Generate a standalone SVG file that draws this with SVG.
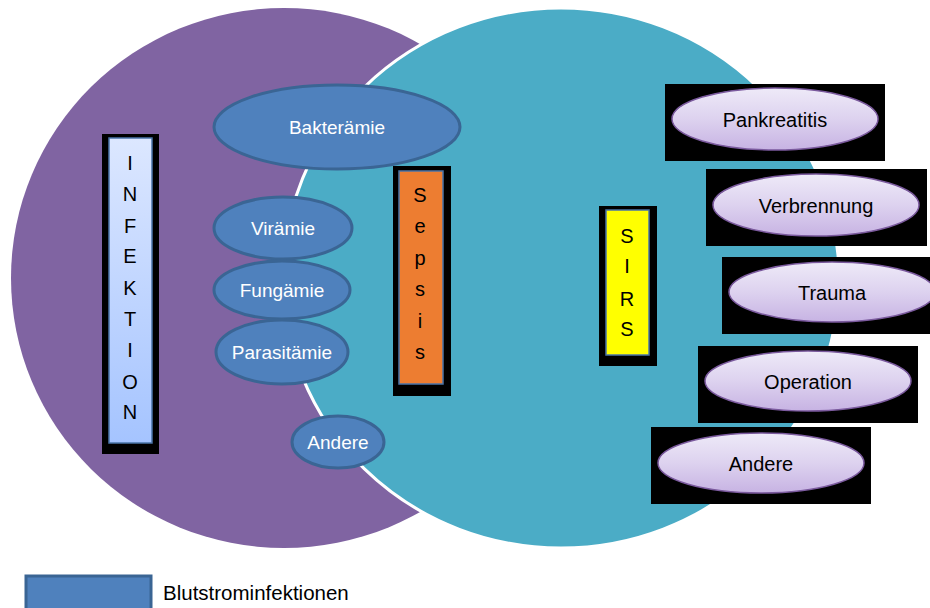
<svg xmlns="http://www.w3.org/2000/svg" width="930" height="608" viewBox="0 0 930 608">
<defs>
<linearGradient id="lav" x1="0" y1="0" x2="0" y2="1">
<stop offset="0" stop-color="#EEEAF8"/>
<stop offset="0.5" stop-color="#DDD2EF"/>
<stop offset="1" stop-color="#C7B3E3"/>
</linearGradient>
<linearGradient id="lblue" x1="0" y1="0" x2="0" y2="1">
<stop offset="0" stop-color="#DCE7FF"/>
<stop offset="1" stop-color="#A5C4FF"/>
</linearGradient>
<style>
.bse{fill:#4F81BD;stroke:#3A6594;stroke-width:3}
.wt{font-family:"Liberation Sans",Arial,sans-serif;font-size:19px;fill:#FFFFFF;text-anchor:middle}
.bt{font-family:"Liberation Sans",Arial,sans-serif;font-size:20px;fill:#000000;text-anchor:middle}
.lt{font-family:"Liberation Sans",Arial,sans-serif;font-size:20px;fill:#000000;text-anchor:middle}
.lav{fill:url(#lav);stroke:#7B5A9E;stroke-width:1.5}
.blk{fill:#000000}
.inner{stroke:#4A74A8;stroke-width:1.5}
</style>
</defs>
<rect width="930" height="608" fill="#FFFFFF"/>
<g id="infektion-circle">
<ellipse cx="284" cy="278" rx="273" ry="270" fill="#8064A2"/>
</g>
<g id="sirs-circle">
<ellipse cx="561" cy="278" rx="278" ry="270" fill="#4BACC6" stroke="#FFFFFF" stroke-width="3"/>
</g>
<g id="connectors"></g>
<g id="bakteraemie">
<ellipse class="bse" cx="337" cy="127" rx="123" ry="42"/>
<text class="wt" x="337" y="134">Bakterämie</text>
</g>
<g id="viraemie">
<ellipse class="bse" cx="283" cy="228" rx="69" ry="31"/>
<text class="wt" x="283" y="235">Virämie</text>
</g>
<g id="fungaemie">
<ellipse class="bse" cx="282" cy="290" rx="68" ry="29"/>
<text class="wt" x="282" y="297">Fungämie</text>
</g>
<g id="parasitaemie">
<ellipse class="bse" cx="282" cy="352" rx="66" ry="32"/>
<text class="wt" x="282" y="359">Parasitämie</text>
</g>
<g id="andere-blue">
<ellipse class="bse" cx="338" cy="442" rx="46" ry="26"/>
<text class="wt" x="338" y="449">Andere</text>
</g>
<g id="infektion">
<rect class="blk" x="102" y="134" width="57" height="320"/>
<rect class="inner" x="109" y="138" width="43" height="305" fill="url(#lblue)"/>
<text class="bt" x="130" y="170">I</text>
<text class="bt" x="130" y="201">N</text>
<text class="bt" x="130" y="233">F</text>
<text class="bt" x="130" y="263">E</text>
<text class="bt" x="130" y="295">K</text>
<text class="bt" x="130" y="326">T</text>
<text class="bt" x="130" y="357">I</text>
<text class="bt" x="130" y="389">O</text>
<text class="bt" x="130" y="419">N</text>
</g>
<g id="sepsis">
<rect class="blk" x="393" y="166" width="58" height="230"/>
<rect class="inner" x="399" y="171" width="44" height="213" fill="#ED7D31"/>
<text class="bt" x="420" y="202">S</text>
<text class="bt" x="420" y="233">e</text>
<text class="bt" x="420" y="265">p</text>
<text class="bt" x="420" y="296">s</text>
<text class="bt" x="420" y="328">i</text>
<text class="bt" x="420" y="359">s</text>
</g>
<g id="sirs">
<rect class="blk" x="599" y="206" width="58" height="160"/>
<rect class="inner" x="606" y="210" width="43" height="145" fill="#FFFF00"/>
<text class="bt" x="627" y="243">S</text>
<text class="bt" x="627" y="273">I</text>
<text class="bt" x="627" y="306">R</text>
<text class="bt" x="627" y="336">S</text>
</g>
<g id="pankreatitis">
<rect class="blk" x="665" y="84" width="220" height="77"/>
<ellipse class="lav" cx="775" cy="119" rx="103" ry="31"/>
<text class="lt" x="775" y="127">Pankreatitis</text>
</g>
<g id="verbrennung">
<rect class="blk" x="706" y="169" width="221" height="77"/>
<ellipse class="lav" cx="816" cy="205" rx="103" ry="31"/>
<text class="lt" x="816" y="213">Verbrennung</text>
</g>
<g id="trauma">
<rect class="blk" x="722" y="257" width="208" height="77"/>
<ellipse class="lav" cx="832" cy="292" rx="103" ry="30"/>
<text class="lt" x="832" y="300">Trauma</text>
</g>
<g id="operation">
<rect class="blk" x="698" y="346" width="220" height="77"/>
<ellipse class="lav" cx="808" cy="381" rx="103" ry="30"/>
<text class="lt" x="808" y="389">Operation</text>
</g>
<g id="andere-lavender">
<rect class="blk" x="651" y="427" width="220" height="77"/>
<ellipse class="lav" cx="761" cy="463" rx="103" ry="30"/>
<text class="lt" x="761" y="471">Andere</text>
</g>
<g id="legend">
<rect x="26" y="576" width="125" height="34" fill="#4F81BD" stroke="#3A6594" stroke-width="3"/>
<text x="163" y="600" font-family="'Liberation Sans',Arial,sans-serif" font-size="20.5" fill="#000000">Blutstrominfektionen</text>
</g>
</svg>
